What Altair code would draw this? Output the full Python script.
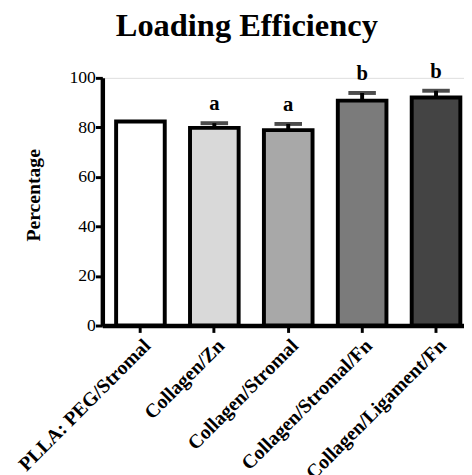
import altair as alt
import pandas as pd

groups = ["PLLA: PEG/Stromal", "Collagen/Zn", "Collagen/Stromal",
          "Collagen/Stromal/Fn", "Collagen/Ligament/Fn"]
means = [82.4, 79.8, 78.9, 90.8, 92.1]
upper = [None, 81.7, 81.4, 93.9, 94.8]
letters = ["", "a", "a", "b", "b"]
fills = ["#ffffff", "#d9d9d9", "#a8a8a8", "#7b7b7b", "#444444"]
y_ticks = [0, 20, 40, 60, 80, 100]

df = pd.DataFrame({"group": groups, "mean": means, "upper": upper,
                   "letter": letters, "fill": fills})

FONT = "Liberation Serif"

xscale = alt.Scale(paddingInner=0.342, paddingOuter=0.118, align=0.79)
yscale = alt.Scale(domain=[0, 100], nice=False)
xaxis = alt.Axis(title=None, labelAngle=315, labelFont=FONT,
                 labelFontSize=20, labelFontWeight="bold",
                 labelColor="black", tickSize=7, tickWidth=3,
                 tickColor="black", domainColor="black",
                 domainWidth=4.5, labelPadding=3, grid=False,
                 labelLimit=400)
yaxis = alt.Axis(values=y_ticks, title="Percentage", grid=False,
                 labelFont=FONT, labelFontSize=18,
                 labelColor="black", labelPadding=0,
                 tickSize=7, tickWidth=3, tickColor="black",
                 domainColor="black", domainWidth=4.5,
                 titleFont=FONT, titleFontSize=20,
                 titleFontWeight="bold", titleColor="black",
                 titleAngle=270, titleAlign="center",
                 titleBaseline="middle", titleX=-70, titleY=119)


def X():
    return alt.X("group:N", sort=groups, scale=xscale, axis=xaxis)


def Y(field):
    return alt.Y(field, scale=yscale, axis=yaxis)


bars = alt.Chart(df).mark_bar(stroke="black", strokeWidth=4).encode(
    x=X(), y=Y("mean:Q"), fill=alt.Fill("fill:N", scale=None))

err = alt.Chart(df).transform_filter("datum.upper != null")

stem = err.mark_rule(color="black", strokeWidth=4).encode(
    x=X(), y=Y("mean:Q"), y2="upper:Q")
cap = err.mark_tick(color="black", thickness=4, size=28).encode(
    x=X(), y=Y("upper:Q"))
text = err.mark_text(font=FONT, fontSize=21, fontWeight="bold", color="black",
                     baseline="alphabetic", dy=-13).encode(
    x=X(), y=Y("upper:Q"), text="letter:N")

chart = alt.layer(bars, stem, cap, text).properties(
    width=368, height=252, autosize="none",
    padding={"left": 96, "top": 67, "right": 0, "bottom": 148},
    title=alt.Title("Loading Efficiency", font=FONT, fontSize=33,
                    fontWeight="bold", color="black", dx=-37, offset=19),
).configure_view(stroke=None).configure(background="white")

chart.save("out.html", embed_options={"renderer": "svg", "actions": False})
